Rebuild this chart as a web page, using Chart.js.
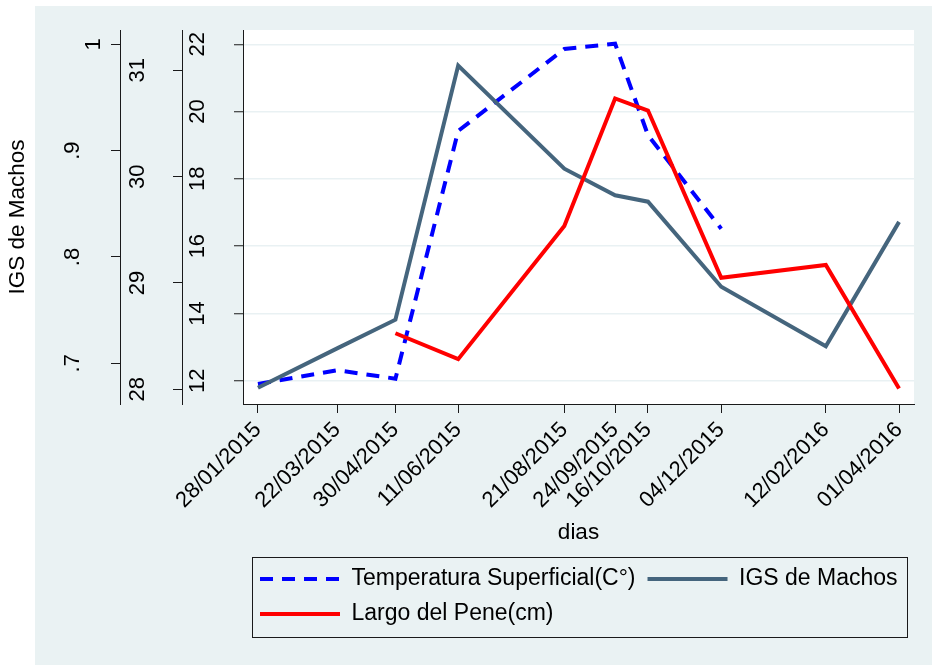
<!DOCTYPE html>
<html>
<head>
<meta charset="utf-8">
<script src="https://cdn.jsdelivr.net/npm/chart.js@4.4.0/dist/chart.umd.min.js"></script>
<style>
  html, body { margin: 0; padding: 0; background: #ffffff; }
  canvas { display: block; }
</style>
</head>
<body>
<canvas id="grafico" width="932" height="665"></canvas>
<script>
// Fechas de muestreo y valores de cada serie
const fechas = ['28/01/2015', '22/03/2015', '30/04/2015', '11/06/2015', '21/08/2015',
                '24/09/2015', '16/10/2015', '04/12/2015', '12/02/2016', '01/04/2016'];
const temperatura = [28.05, 28.18, 28.10, 30.43, 31.20, 31.25, 30.39, 29.51, null, null];
const igsMachos   = [0.677, 0.714, 0.741, 0.980, 0.883, 0.858, 0.852, 0.772, 0.716, 0.833];
const largoPene   = [null, null, 13.41, 12.64, 16.60, 20.39, 20.03, 15.06, 15.44, 11.77];

// Marcas de cada eje vertical
const marcasIGS   = [0.7, 0.8, 0.9, 1];
const textosIGS   = ['.7', '.8', '.9', '1'];
const marcasTemp  = [28, 29, 30, 31];
const marcasLargo = [12, 14, 16, 18, 20, 22];

// Conversión de fechas a días (eje x lineal en días)
const aDia = s => { const [d, m, a] = s.split('/').map(Number); return Date.UTC(a, m - 1, d) / 864e5; };
const dos = n => String(n).padStart(2, '0');
const aFecha = v => { const t = new Date(Math.round(v) * 864e5); return dos(t.getUTCDate()) + '/' + dos(t.getUTCMonth() + 1) + '/' + t.getUTCFullYear(); };
const dias = fechas.map(aDia);
const puntos = serie => serie.map((v, i) => ({ x: dias[i], y: v }));

Chart.defaults.font.family = '"Liberation Sans", Arial, sans-serif';
Chart.defaults.color = '#000000';

const FUENTE_MARCAS = { size: 22 };
const FUENTE_TITULO = { size: 22.5 };
const FUENTE_LEYENDA = { size: 23 };
const NEGRO = '#1a1a1a';

// Fondo del gráfico y del área de trazado, y recuadro de la leyenda
const fondo = {
  id: 'fondo',
  beforeDraw(chart) {
    const { ctx, chartArea: a } = chart;
    ctx.save();
    ctx.fillStyle = '#ffffff';
    ctx.fillRect(0, 0, chart.width, chart.height);
    ctx.fillStyle = '#EAF2F3';
    ctx.fillRect(35, 6, chart.width - 35, chart.height - 6);
    ctx.fillStyle = '#ffffff';
    ctx.fillRect(a.left, a.top, a.right - a.left, a.bottom - a.top);
    ctx.restore();
  },
  afterLayout(chart) {
    const ley = chart.legend;
    ley.left += 5;
    ley.right += 5;
  },
  afterDraw(chart) {
    const { ctx, chartArea: a, legend: ley } = chart;
    ctx.save();
    ctx.strokeStyle = NEGRO;
    ctx.lineWidth = 1;
    const x0 = Math.round(a.left + 9) + 0.5, x1 = Math.round(a.right - 7) + 0.5;
    const y0 = Math.round(ley.top + 1.5) + 0.5, y1 = Math.round(ley.bottom + 1.5) + 0.5;
    ctx.strokeRect(x0, y0, x1 - x0, y1 - y0);
    ctx.restore();
  }
};

// Los ejes no reservan margen extra para sus etiquetas
const sinMargen = s => { s.paddingTop = 0; s.paddingBottom = 0; s.paddingLeft = 0; s.paddingRight = 0; };

function ejeVertical(peso, ancho, min, max, marcas, relleno, extra, extraMarcas) {
  return Object.assign({
    type: 'linear',
    position: 'left',
    weight: peso,
    min: min,
    max: max,
    afterBuildTicks: s => { s.ticks = marcas.map(v => ({ value: v })); },
    afterFit: s => { s.width = ancho; sinMargen(s); },
    border: { display: true, color: NEGRO, width: 1 },
    grid: { drawOnChartArea: false, drawTicks: true, tickLength: 9, tickColor: NEGRO, tickWidth: 1 },
    ticks: Object.assign({ minRotation: 90, maxRotation: 90, crossAlign: 'center', padding: relleno,
             font: FUENTE_MARCAS, color: '#000000' }, extraMarcas || {})
  }, extra || {});
}

// En la leyenda cada serie se dibuja con su propio trazo (incluido el discontinuo)
const etiquetasLeyenda = chart => {
  const items = Chart.defaults.plugins.legend.labels.generateLabels(chart);
  items.forEach(it => {
    const ds = chart.data.datasets[it.datasetIndex];
    it.lineDash = ds.borderDash || [];
    it.lineWidth = ds.borderWidth;
    it.strokeStyle = ds.borderColor;
    it.lineCap = 'butt';
  });
  return items;
};

new Chart(document.getElementById('grafico'), {
  type: 'line',
  data: {
    datasets: [
      {
        label: 'Temperatura Superficial(C°)',
        data: puntos(temperatura),
        yAxisID: 'yTemp',
        borderColor: '#0000FF',
        backgroundColor: '#0000FF',
        borderWidth: 4,
        borderDash: [13, 9],
        order: 3
      },
      {
        label: 'IGS de Machos',
        data: puntos(igsMachos),
        yAxisID: 'yIGS',
        borderColor: '#45657D',
        backgroundColor: '#45657D',
        borderWidth: 4,
        order: 2
      },
      {
        label: 'Largo del Pene(cm)',
        data: puntos(largoPene),
        yAxisID: 'yLargo',
        borderColor: '#FF0000',
        backgroundColor: '#FF0000',
        borderWidth: 4,
        order: 1
      }
    ]
  },
  options: {
    responsive: false,
    animation: false,
    devicePixelRatio: 1,
    spanGaps: false,
    elements: {
      point: { radius: 0, hoverRadius: 0 },
      line: { tension: 0, fill: false, borderCapStyle: 'butt', borderJoinStyle: 'miter' }
    },
    layout: { padding: { left: 0, right: 18, top: 30, bottom: 29.5 } },
    plugins: {
      tooltip: { enabled: false },
      legend: {
        display: true,
        position: 'bottom',
        fullSize: false,
        align: 'start',
        labels: {
          font: FUENTE_LEYENDA,
          color: '#000000',
          padding: 12,
          usePointStyle: true,
          pointStyle: 'line',
          pointStyleWidth: 80,
          generateLabels: etiquetasLeyenda,
          sort: (a, b) => a.datasetIndex - b.datasetIndex
        }
      }
    },
    scales: {
      x: {
        type: 'linear',
        position: 'bottom',
        min: dias[0] - 10,
        max: dias[dias.length - 1] + 10,
        afterBuildTicks: s => { s.ticks = dias.map(v => ({ value: v })); },
        afterFit: s => { s.height = 151.5; sinMargen(s); },
        border: { display: true, color: NEGRO, width: 1 },
        grid: { drawOnChartArea: false, drawTicks: true, tickLength: 9, tickColor: NEGRO },
        ticks: { autoSkip: false, minRotation: 45, maxRotation: 45, padding: 4,
                 font: FUENTE_MARCAS, color: '#000000', callback: v => aFecha(v) },
        title: { display: true, text: 'dias', font: FUENTE_TITULO, color: '#000000',
                 padding: { top: 0, bottom: 9.7 } }
      },
      yLargo: ejeVertical(0, 61, 11.307, 22.425, marcasLargo, 24.3, {
        grid: { drawOnChartArea: true, color: '#E9F1F3', lineWidth: 1.5, drawTicks: true,
                tickLength: 9, tickColor: NEGRO, tickWidth: 1 }
      }),
      yTemp: ejeVertical(1, 62, 27.862, 31.379, marcasTemp, 23),
      yIGS: ejeVertical(2, 120, 0.66172, 1.01345, marcasIGS, 29.3, {
        title: { display: true, text: 'IGS de Machos', font: FUENTE_TITULO, color: '#000000',
                 padding: { top: 4, bottom: 0 } }
      }, {
        // el "1" se dibuja desplazado hacia el eje
        callback: (v, i) => textosIGS[i] === '1' ? ['', '', '1'] : textosIGS[i],
        font: { size: 22, lineHeight: 0.98 }
      })
    }
  },
  plugins: [fondo]
});
</script>
</body>
</html>
